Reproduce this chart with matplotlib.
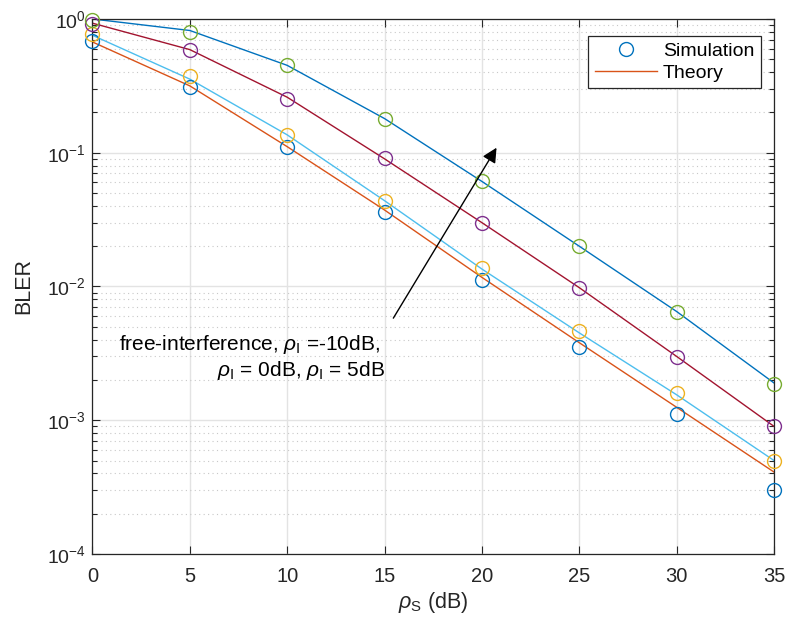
import numpy as np
import matplotlib
matplotlib.use("Agg")
import matplotlib.pyplot as plt
from matplotlib.ticker import LogLocator, NullFormatter, FixedLocator

plt.rcParams["font.family"] = ["Liberation Sans", "DejaVu Sans"]
plt.rcParams["mathtext.fontset"] = "custom"
plt.rcParams["mathtext.rm"] = "Liberation Sans"
plt.rcParams["mathtext.it"] = "Liberation Sans:italic"
plt.rcParams["mathtext.default"] = "regular"
plt.rcParams["axes.unicode_minus"] = False

# SNR axis (dB)
snr_db = [0, 5, 10, 15, 20, 25, 30, 35]

# Simulation points, one list per interference case
sim_free = [0.69, 0.311, 0.111, 0.0363, 0.0112, 0.0035, 0.00111, 0.00030]
sim_m10 = [0.777, 0.372, 0.136, 0.0438, 0.0138, 0.00461, 0.00160, 0.00050]
sim_0 = [0.92, 0.587, 0.254, 0.0907, 0.0300, 0.0098, 0.00295, 0.00090]
sim_5 = [0.99, 0.80, 0.451, 0.180, 0.0615, 0.0200, 0.0065, 0.00187]

# Theory curves
th_free = [0.673, 0.316, 0.111, 0.0373, 0.0117, 0.0038, 0.00125, 0.00041]
th_m10 = [0.755, 0.355, 0.136, 0.0438, 0.0135, 0.0045, 0.00155, 0.00050]
th_0 = [0.93, 0.59, 0.26, 0.090, 0.0300, 0.0098, 0.0030, 0.00090]
th_5 = [1.0, 0.82, 0.45, 0.180, 0.0610, 0.0200, 0.0065, 0.0019]

sim_colors = ["#0072BD", "#EDB120", "#7E2F8E", "#77AC30"]
th_colors = ["#D95319", "#4DBEEE", "#A2142F", "#0072BD"]

fig = plt.figure(figsize=(7.87, 6.28), dpi=100)
ax = fig.add_axes([0.1175, 0.1178, 0.866, 0.852])

sims = [sim_free, sim_m10, sim_0, sim_5]
ths = [th_free, th_m10, th_0, th_5]
for i, (s, t) in enumerate(zip(sims, ths)):
    ax.plot(snr_db, s, linestyle="none", marker="o", markersize=10, markerfacecolor="none",
            markeredgecolor=sim_colors[i], markeredgewidth=1.0,
            label="Simulation" if i == 0 else None, zorder=3, clip_on=False)
    ax.plot(snr_db, t, color=th_colors[i], linewidth=1.0,
            label="Theory" if i == 0 else None, zorder=2)

ax.set_yscale("log")
ax.set_xlim(0, 35)
ax.set_ylim(1e-4, 1)
ax.xaxis.set_major_locator(FixedLocator(snr_db))
ax.yaxis.set_major_locator(LogLocator(base=10, numticks=10))
ax.yaxis.set_minor_locator(LogLocator(base=10, subs=np.arange(2, 10), numticks=20))
ax.yaxis.set_minor_formatter(NullFormatter())

ax.grid(True, which="major", color="#e3e3e3", linewidth=1.0, linestyle="-")
ax.grid(True, which="minor", axis="y", color="#c8c8c8", linewidth=0.8, linestyle=(0, (1, 3)))
ax.set_axisbelow(True)

ax.tick_params(which="both", direction="in", top=True, right=True, colors="#262626")
ax.tick_params(axis="x", labelsize=14.5, pad=9)
ax.tick_params(axis="y", labelsize=14, pad=5)
ax.tick_params(which="major", length=6, width=0.8)
ax.tick_params(which="minor", length=3.5, width=0.8)
for sp in ax.spines.values():
    sp.set_color("#262626")
    sp.set_linewidth(0.9)

ax.set_xlabel(r"$\it{\rho}_{\rm S}$ (dB)", fontsize=15.5, color="#262626", labelpad=3)
ax.set_ylabel("BLER", fontsize=15.5, color="#262626", labelpad=9)

leg = ax.legend(loc="upper right", fontsize=14, frameon=True, fancybox=False,
                edgecolor="#262626", framealpha=1, borderpad=0.35, handlelength=3.2,
                handletextpad=0.3, labelspacing=0.2, bbox_to_anchor=(0.995, 0.987))
leg.get_frame().set_linewidth(0.9)

ax.annotate("", xy=(20.75, 0.109), xytext=(15.45, 0.0058),
            arrowprops=dict(arrowstyle="-|>", color="black", lw=1.0,
                            mutation_scale=22, shrinkA=0, shrinkB=0))
ax.text(14.75, 0.0037, r"free-interference, $\it{\rho}_{\rm I}$ =-10dB,", fontsize=15,
        ha="right", va="center", color="black")
ax.text(15.05, 0.00235, r"$\it{\rho}_{\rm I}$ = 0dB, $\it{\rho}_{\rm I}$ = 5dB", fontsize=15,
        ha="right", va="center", color="black")

fig.savefig("out.png", dpi=100)
